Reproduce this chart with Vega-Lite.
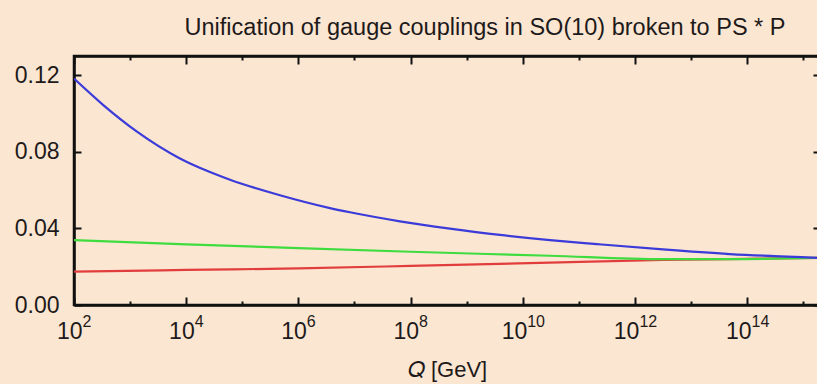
{
  "$schema": "https://vega.github.io/schema/vega-lite/v6.json",
  "width": 746,
  "height": 249,
  "autosize": {"type": "none"},
  "padding": {"left": 74, "top": 56, "right": 0, "bottom": 79},
  "background": "#fbe6d2",
  "config": {
    "view": {"stroke": "#111111", "strokeWidth": 2.5},
    "font": "Liberation Sans"
  },
  "title": {
    "text": "Unification of gauge couplings in SO(10) broken to PS * P",
    "font": "Liberation Sans",
    "fontSize": 23.5,
    "fontWeight": "normal",
    "color": "#1e1a1a",
    "anchor": "middle",
    "dx": 38,
    "baseline": "alphabetic",
    "offset": -3
  },
  "data": {
    "values": [
      {"coupling": "alpha1", "Q": 100, "alpha": 0.0174},
      {"coupling": "alpha1", "Q": 10000, "alpha": 0.0183},
      {"coupling": "alpha1", "Q": 1000000, "alpha": 0.0191},
      {"coupling": "alpha1", "Q": 100000000, "alpha": 0.0204},
      {"coupling": "alpha1", "Q": 30550000000, "alpha": 0.0221},
      {"coupling": "alpha1", "Q": 3155000000000, "alpha": 0.0235},
      {"coupling": "alpha1", "Q": 49320000000000, "alpha": 0.0240},
      {"coupling": "alpha1", "Q": 1995000000000000, "alpha": 0.0246},
      {"coupling": "alpha2", "Q": 100, "alpha": 0.0339},
      {"coupling": "alpha2", "Q": 10000, "alpha": 0.0317},
      {"coupling": "alpha2", "Q": 1000000, "alpha": 0.0297},
      {"coupling": "alpha2", "Q": 100000000, "alpha": 0.0278},
      {"coupling": "alpha2", "Q": 30550000000, "alpha": 0.0257},
      {"coupling": "alpha2", "Q": 3155000000000, "alpha": 0.0239},
      {"coupling": "alpha2", "Q": 49320000000000, "alpha": 0.0239},
      {"coupling": "alpha2", "Q": 1995000000000000, "alpha": 0.0246},
      {"coupling": "alpha3", "Q": 100, "alpha": 0.1182},
      {"coupling": "alpha3", "Q": 328.9, "alpha": 0.1045},
      {"coupling": "alpha3", "Q": 1327, "alpha": 0.0905},
      {"coupling": "alpha3", "Q": 7745, "alpha": 0.0765},
      {"coupling": "alpha3", "Q": 26550, "alpha": 0.0694},
      {"coupling": "alpha3", "Q": 60390, "alpha": 0.0654},
      {"coupling": "alpha3", "Q": 469900, "alpha": 0.0573},
      {"coupling": "alpha3", "Q": 3656000, "alpha": 0.0506},
      {"coupling": "alpha3", "Q": 8318000, "alpha": 0.0484},
      {"coupling": "alpha3", "Q": 64710000, "alpha": 0.0437},
      {"coupling": "alpha3", "Q": 503500000, "alpha": 0.0399},
      {"coupling": "alpha3", "Q": 3926000000, "alpha": 0.0366},
      {"coupling": "alpha3", "Q": 30550000000, "alpha": 0.0339},
      {"coupling": "alpha3", "Q": 210400000000, "alpha": 0.0318},
      {"coupling": "alpha3", "Q": 3155000000000, "alpha": 0.0290},
      {"coupling": "alpha3", "Q": 49320000000000, "alpha": 0.0266},
      {"coupling": "alpha3", "Q": 1995000000000000, "alpha": 0.0246}
    ]
  },
  "layer": [
    {
      "mark": {"type": "line", "strokeWidth": 2.2, "interpolate": "monotone", "clip": true},
      "encoding": {
        "x": {
          "field": "Q",
          "type": "quantitative",
          "scale": {"type": "log", "domain": [100, 1995000000000000], "nice": false},
          "axis": {
            "orient": "bottom",
            "values": [100, 1000, 10000, 100000, 1000000, 10000000, 100000000, 1000000000, 10000000000, 100000000000, 1000000000000, 10000000000000, 100000000000000, 1000000000000000],
            "labelExpr": "round(log(datum.value)/LN10) % 2 == 1 ? '' : '10'",
            "labelAlign": "right",
            "labelOffset": {"condition": {"test": "datum.value > 5000000000", "value": 4}, "value": 8},
            "labelFlush": false,
            "labelOverlap": false,
            "labelFontSize": 23,
            "labelColor": "#1e1a1a",
            "labelPadding": 23,
            "tickSize": {"condition": {"test": "round(log(datum.value)/LN10) % 2 == 0", "value": -8}, "value": -4},
            "tickColor": "#111111",
            "tickWidth": 2,
            "domainColor": "#111111",
            "domainWidth": 2.5,
            "grid": false,
            "title": "𝑄 [GeV]",
            "titleFont": "Liberation Sans",
            "titleFontSize": 22,
            "titleFontWeight": "normal",
            "titleColor": "#1e1a1a",
            "titlePadding": 12
          }
        },
        "y": {
          "field": "alpha",
          "type": "quantitative",
          "scale": {"domain": [0, 0.13], "nice": false},
          "axis": {
            "orient": "left",
            "values": [0, 0.04, 0.08, 0.12],
            "format": ".2f",
            "labelFontSize": 23,
            "labelColor": "#1e1a1a",
            "labelPadding": 22,
            "tickSize": -7,
            "tickColor": "#111111",
            "tickWidth": 2,
            "domainColor": "#111111",
            "domainWidth": 2.5,
            "grid": false,
            "title": null
          }
        },
        "color": {
          "field": "coupling",
          "type": "nominal",
          "scale": {"domain": ["alpha1", "alpha2", "alpha3"], "range": ["#e23d3d", "#3fdc3f", "#3b3bd9"]},
          "legend": null
        }
      }
    },
    {
      "mark": {"type": "line", "strokeOpacity": 0},
      "encoding": {
        "x": {
          "field": "Q",
          "type": "quantitative",
          "axis": {
            "orient": "top",
            "values": [100, 1000, 10000, 100000, 1000000, 10000000, 100000000, 1000000000, 10000000000, 100000000000, 1000000000000, 10000000000000, 100000000000000, 1000000000000000],
            "labels": false,
            "tickSize": {"condition": {"test": "round(log(datum.value)/LN10) % 2 == 0", "value": -8}, "value": -4},
            "tickColor": "#111111",
            "tickWidth": 2,
            "domainColor": "#111111",
            "domainWidth": 2.5,
            "grid": false,
            "title": null
          }
        },
        "y": {
          "field": "alpha",
          "type": "quantitative",
          "axis": {
            "orient": "right",
            "values": [0, 0.04, 0.08, 0.12],
            "labels": false,
            "tickSize": -7,
            "tickColor": "#111111",
            "tickWidth": 2,
            "domainColor": "#111111",
            "domainWidth": 2.5,
            "grid": false,
            "title": null
          }
        },
        "detail": {"field": "coupling", "type": "nominal"}
      }
    },
    {
      "mark": {"type": "line", "strokeOpacity": 0},
      "encoding": {
        "x": {
          "field": "Q",
          "type": "quantitative",
          "axis": {
            "orient": "bottom",
            "values": [100, 1000, 10000, 100000, 1000000, 10000000, 100000000, 1000000000, 10000000000, 100000000000, 1000000000000, 10000000000000, 100000000000000, 1000000000000000],
            "labelExpr": "round(log(datum.value)/LN10) % 2 == 1 ? '' : format(round(log(datum.value)/LN10), 'd')",
            "labelAlign": "left",
            "labelOffset": {"condition": {"test": "datum.value > 5000000000", "value": 4}, "value": 8},
            "labelFlush": false,
            "labelOverlap": false,
            "labelFontSize": 16,
            "labelColor": "#1e1a1a",
            "labelPadding": 8,
            "ticks": false,
            "domain": false,
            "grid": false,
            "title": null
          }
        },
        "y": {"field": "alpha", "type": "quantitative", "axis": null},
        "detail": {"field": "coupling", "type": "nominal"}
      }
    }
  ],
  "resolve": {"axis": {"x": "independent", "y": "independent"}}
}
